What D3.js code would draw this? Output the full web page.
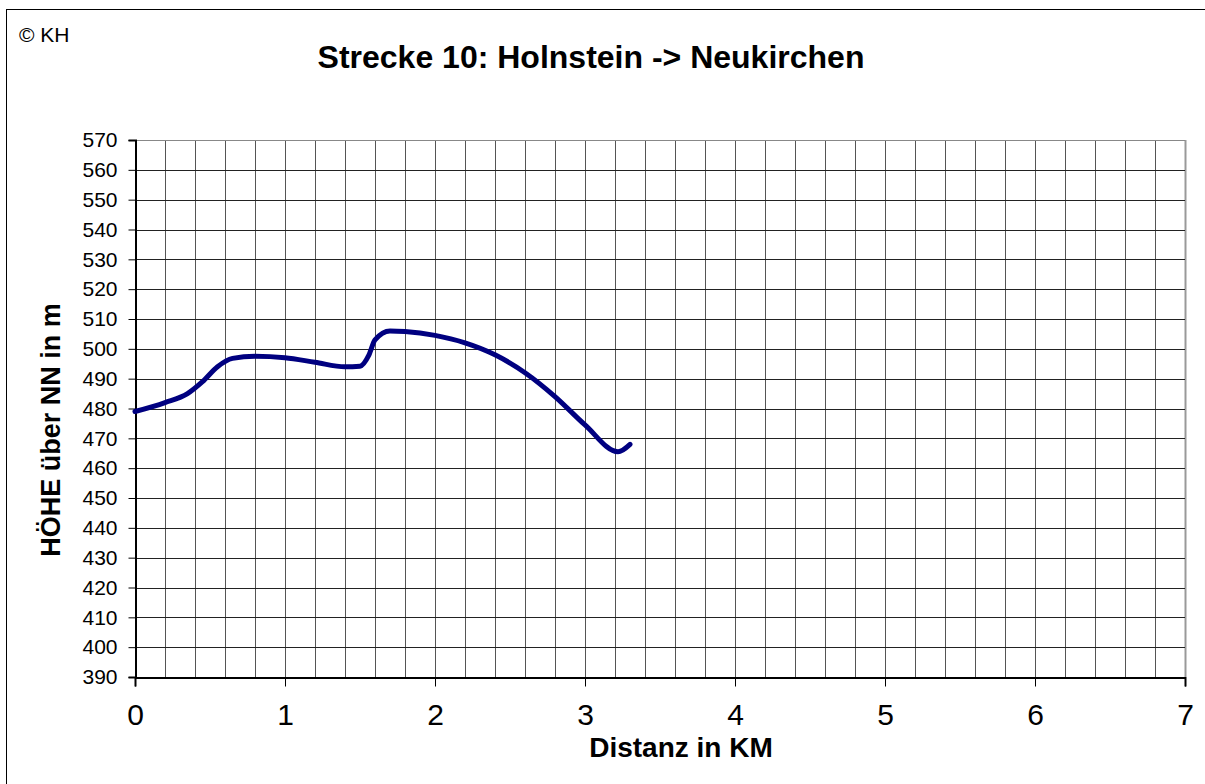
<!DOCTYPE html>
<html lang="de">
<head>
  <meta charset="UTF-8" />
  <title>Strecke 10: Holnstein -> Neukirchen</title>
  <script src="https://d3js.org/d3.v7.min.js"></script>
  <style>
    html, body {
      margin: 0;
      padding: 0;
      background: #fff;
      font-family: "Liberation Sans", Arial, sans-serif;
    }
    svg { display: block; }
  </style>
</head>
<body>
  <svg id="chart" width="1205" height="784"></svg>

  <script>
    // Streckenprofil (km, m über NN)
    const distKm = [0, 0.2, 0.35, 0.45, 0.55, 0.65, 0.8, 1.0, 1.2, 1.4, 1.5, 1.56, 1.6, 1.7, 1.8, 2.0, 2.2, 2.4, 2.6, 2.8, 3.0, 3.22, 3.3];
    const heightM = [479, 482, 485, 489, 494, 496.8, 497.5, 497, 495.5, 494, 494.2, 498, 503, 506, 505.8, 504.5, 502, 498, 492, 484, 474.5, 465.5, 468];

    const xTicks = [0, 1, 2, 3, 4, 5, 6, 7];
    const yTicks = d3.range(390, 571, 10);
    const xGrid = d3.range(0, 7.01, 0.2);

    const title = "Strecke 10: Holnstein -> Neukirchen";
    const xLabel = "Distanz in KM";
    const yLabel = "HÖHE über NN in m";

    const svg = d3.select("#chart");
    const plot = { left: 135, right: 1185, top: 140, bottom: 677 };

    const x = d3.scaleLinear().domain([0, 7]).range([plot.left, plot.right]);
    const y = d3.scaleLinear().domain([390, 570]).range([plot.bottom, plot.top]);

    // outer frame
    svg.append("rect")
      .attr("x", 6.5).attr("y", 9.5)
      .attr("width", 1210).attr("height", 790)
      .attr("fill", "none").attr("stroke", "#000");

    svg.append("text")
      .attr("x", 19).attr("y", 42)
      .attr("font-size", "21px")
      .text("© KH");

    svg.append("text")
      .attr("x", 591).attr("y", 68)
      .attr("text-anchor", "middle")
      .attr("font-size", "32px")
      .attr("font-weight", "bold")
      .text(title);

    // grid
    const grid = svg.append("g");
    grid.selectAll("line.v")
      .data(xGrid.slice(1))
      .join("line")
      .attr("x1", d => Math.round(x(d)) + 0.5).attr("x2", d => Math.round(x(d)) + 0.5)
      .attr("y1", plot.top).attr("y2", plot.bottom)
      .attr("stroke", d => Math.abs(d - 7) < 1e-6 ? "#999" : "#555")
      .attr("stroke-width", d => Math.abs(d - 7) < 1e-6 ? 2 : 1);
    grid.selectAll("line.h")
      .data(yTicks.slice(1))
      .join("line")
      .attr("x1", plot.left).attr("x2", plot.right)
      .attr("y1", d => Math.round(y(d)) + 0.5).attr("y2", d => Math.round(y(d)) + 0.5)
      .attr("stroke", d => d === 570 ? "#888" : "#222")
      .attr("stroke-width", 1);

    // y axis
    const yAxis = svg.append("g")
      .attr("transform", `translate(${plot.left + 0.5},0)`)
      .call(d3.axisLeft(y).tickValues(yTicks).tickSize(7).tickPadding(11));
    yAxis.selectAll("text")
      .attr("font-family", "'Liberation Sans', Arial, sans-serif")
      .attr("font-size", "21px").attr("fill", "#000");
    yAxis.select(".domain").attr("stroke", "#000").attr("stroke-width", 2);

    // x axis
    const xAxis = svg.append("g")
      .attr("transform", `translate(0,${plot.bottom + 0.5})`)
      .call(d3.axisBottom(x).tickValues(xTicks).tickSize(9).tickPadding(17).tickFormat(d3.format("d")));
    xAxis.selectAll("text")
      .attr("font-family", "'Liberation Sans', Arial, sans-serif")
      .attr("font-size", "30px").attr("fill", "#000");
    xAxis.select(".domain").attr("stroke", "#000").attr("stroke-width", 2);

    svg.append("text")
      .attr("x", 681).attr("y", 757)
      .attr("text-anchor", "middle")
      .attr("font-size", "28px")
      .attr("font-weight", "bold")
      .text(xLabel);

    svg.append("text")
      .attr("transform", `translate(60,430) rotate(-90)`)
      .attr("text-anchor", "middle")
      .attr("font-size", "27px")
      .attr("font-weight", "bold")
      .text(yLabel);

    // profile line
    const line = d3.line()
      .x((d, i) => x(distKm[i]))
      .y(d => y(d))
      .curve(d3.curveMonotoneX);

    svg.append("path")
      .datum(heightM)
      .attr("d", line)
      .attr("fill", "none")
      .attr("stroke", "#000080")
      .attr("stroke-width", 5)
      .attr("stroke-linecap", "round")
      .attr("stroke-linejoin", "round");
  </script>
</body>
</html>
